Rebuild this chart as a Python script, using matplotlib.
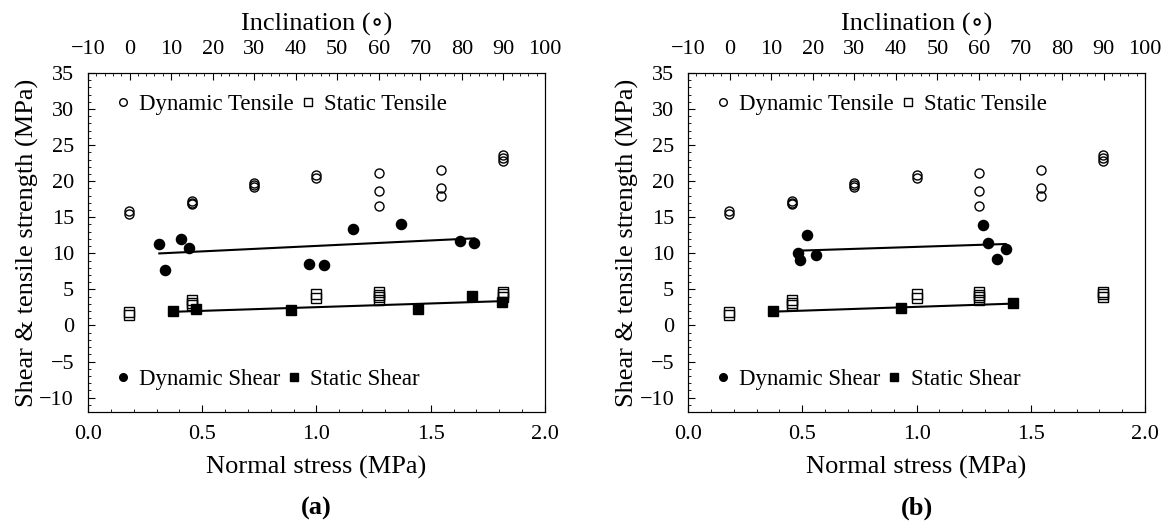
import matplotlib
matplotlib.use("Agg")
import matplotlib.pyplot as plt
from matplotlib.lines import Line2D
from matplotlib.ticker import MultipleLocator
import numpy as np

plt.rcParams['font.family'] = ['Liberation Serif', 'DejaVu Serif']
plt.rcParams['mathtext.fontset'] = 'stix'

# dynamic tensile (same in both panels)
dt_x = [0.18, 0.18, 0.455, 0.455, 0.455, 0.727, 0.727, 0.727, 1.0, 1.0,
        1.273, 1.273, 1.273, 1.545, 1.545, 1.545, 1.818, 1.818, 1.818]
dt_y = [15.5, 15.8, 16.8, 17.0, 17.3, 19.2, 19.5, 19.7, 20.5, 20.8,
        21.1, 18.6, 16.5, 21.6, 19.1, 17.9, 22.8, 23.2, 23.6]

# static tensile (same in both panels)
st_x = [0.18, 0.18, 0.455, 0.455, 0.455, 1.0, 1.0,
        1.273, 1.273, 1.273, 1.273, 1.818, 1.818, 1.818]
st_y = [1.5, 1.9, 2.8, 3.1, 3.5, 3.8, 4.3,
        3.5, 3.9, 4.2, 4.6, 4.0, 4.3, 4.7]

# panel (a) shear
ds_a_x = [0.312, 0.338, 0.407, 0.44, 0.967, 1.034, 1.158, 1.37, 1.628, 1.691]
ds_a_y = [11.25, 7.64, 11.94, 10.74, 8.57, 8.43, 13.43, 14.1, 11.76, 11.43]
ss_a_x = [0.373, 0.473, 0.887, 1.443, 1.682, 1.81]
ss_a_y = [1.94, 2.26, 2.13, 2.31, 4.03, 3.24]

# panel (b) shear
ds_b_x = [0.481, 0.49, 0.519, 0.56, 1.29, 1.312, 1.351, 1.39]
ds_b_y = [10.0, 9.13, 12.5, 9.75, 13.9, 11.4, 9.26, 10.6]
ss_b_x = [0.371, 0.931, 1.424]
ss_b_y = [1.94, 2.45, 3.06]

panels = [
    ("(a)", ds_a_x, ds_a_y, ss_a_x, ss_a_y, 0.0754),
    ("(b)", ds_b_x, ds_b_y, ss_b_x, ss_b_y, 0.5896),
]

fig = plt.figure(figsize=(11.67, 5.24), dpi=100)
ms = 6.5
fs_tick = 16
fs_lab = 19

for tag, dsx, dsy, ssx, ssy, left in panels:
    ax = fig.add_axes([left, 0.2137, 0.3916, 0.647])
    ax.plot(dt_x, dt_y, 'o', ms=ms, mfc='none', mec='black', mew=1.0, ls='none')
    ax.plot(st_x, st_y, 's', ms=ms, mfc='none', mec='black', mew=1.0, ls='none')
    ax.plot(dsx, dsy, 'o', ms=ms + 0.8, color='black', ls='none')
    ax.plot(ssx, ssy, 's', ms=ms + 0.5, color='black', ls='none')

    # linear fits of the shear data
    for xs, ys in ((dsx, dsy), (ssx, ssy)):
        k, b = np.polyfit(xs, ys, 1)
        xx = np.array([min(xs), max(xs)])
        ax.plot(xx, k * xx + b, color='black', lw=1.5)

    ax.set_xlim(0, 2)
    ax.set_ylim(-12, 35)
    ax.xaxis.set_major_locator(MultipleLocator(0.5))
    ax.xaxis.set_minor_locator(MultipleLocator(0.1))
    ax.yaxis.set_major_locator(MultipleLocator(5))
    ax.yaxis.set_minor_locator(MultipleLocator(1))
    ax.xaxis.set_major_formatter(plt.FormatStrFormatter('%.1f'))
    ax.tick_params(which='both', direction='in', top=False, right=False,
                   labelsize=fs_tick)
    ax.tick_params(axis='x', pad=9)
    ax.tick_params(axis='y', pad=10)
    ax.tick_params(which='major', length=5)
    ax.tick_params(which='minor', length=2.5)
    ax.set_xlabel("Normal stress (MPa)", fontsize=fs_lab, labelpad=9)
    ax.set_ylabel("Shear & tensile strength (MPa)", fontsize=fs_lab, labelpad=0)

    top = ax.twiny()
    top.set_xlim(-10, 100)
    top.xaxis.set_major_locator(MultipleLocator(10))
    top.xaxis.set_minor_locator(MultipleLocator(2))
    top.tick_params(which='both', direction='in', labelsize=fs_tick, pad=10)
    top.tick_params(which='major', length=5)
    top.tick_params(which='minor', length=2.5)
    top.set_xlabel("Inclination (\u2218)", fontsize=fs_lab, labelpad=7)

    h1 = [Line2D([], [], marker='o', ls='none', mfc='none', mec='black', ms=5.5),
          Line2D([], [], marker='s', ls='none', mfc='none', mec='black', ms=5.5)]
    leg1 = ax.legend(h1, ["Dynamic Tensile", "Static Tensile"], loc='upper left',
                     bbox_to_anchor=(0.022, 0.985), ncol=2, frameon=False,
                     fontsize=16.5, handlelength=0.8, handletextpad=0.3,
                     columnspacing=0.2, borderaxespad=0.3)
    ax.add_artist(leg1)
    h2 = [Line2D([], [], marker='o', ls='none', color='black', ms=5.5),
          Line2D([], [], marker='s', ls='none', color='black', ms=5.5)]
    ax.legend(h2, ["Dynamic Shear", "Static Shear"], loc='lower left',
              bbox_to_anchor=(0.022, 0.018), ncol=2, frameon=False,
              fontsize=16.5, handlelength=0.8, handletextpad=0.3,
              columnspacing=0.2, borderaxespad=0.3)

    fig.text(left + 0.3916 / 2, 0.03, tag, ha='center', va='center',
             fontsize=fs_lab, fontweight='bold')

fig.savefig("out.png", dpi=100)
